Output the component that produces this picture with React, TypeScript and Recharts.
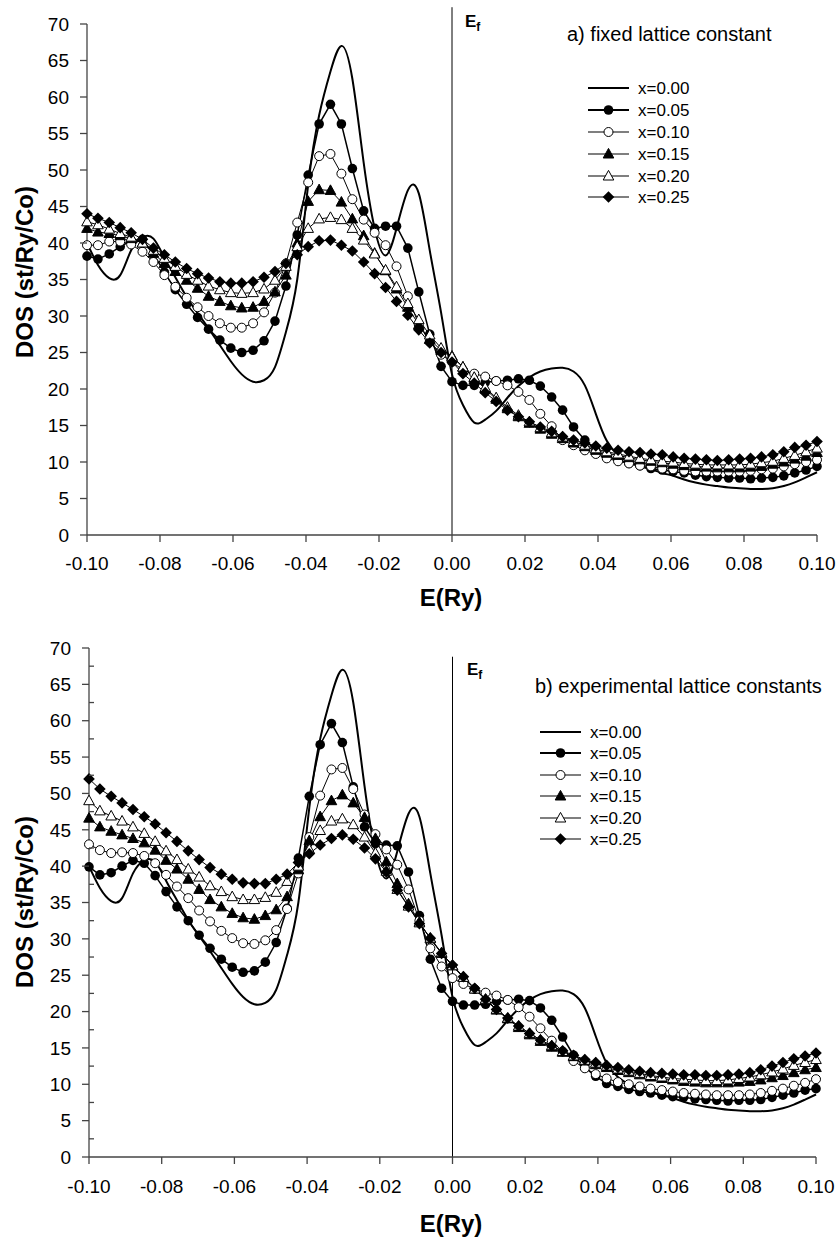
import React from "react"
import { LineChart, Line, XAxis, YAxis, ReferenceLine } from "recharts"

// energy grid (Ry), same for every curve
const energy = [
    -0.1, -0.097, -0.0939, -0.0909, -0.0879, -0.0848, -0.0818, -0.0788, -0.0758, -0.0727, -0.0697,
    -0.0667, -0.0636, -0.0606, -0.0576, -0.0545, -0.0515, -0.0485, -0.0455, -0.0424, -0.0394,
    -0.0364, -0.0333, -0.0303, -0.0273, -0.0242, -0.0212, -0.0182, -0.0152, -0.0121, -0.0091,
    -0.0061, -0.003, 0, 0.003, 0.0061, 0.0091, 0.0121, 0.0152, 0.0182, 0.0212, 0.0242, 0.0273,
    0.0303, 0.0333, 0.0364, 0.0394, 0.0424, 0.0455, 0.0485, 0.0515, 0.0545, 0.0576, 0.0606,
    0.0636, 0.0667, 0.0697, 0.0727, 0.0758, 0.0788, 0.0818, 0.0848, 0.0879, 0.0909, 0.0939,
    0.097, 0.1,
]

// x=0.00 is the same compound in both panels
const dos000 = [
    40.0, 37.0, 35.2, 35.6, 39.0, 40.8, 40.6, 38.0, 35.3, 32.6, 30.4, 28.3, 26.0, 23.8, 22.0, 21.0,
    21.2, 23.0, 27.8, 35.0, 48.0, 57.5, 63.5, 67.0, 62.5, 51.0, 42.0, 38.3, 42.0, 47.2, 46.8, 39.0,
    30.5, 22.0, 17.8, 15.4, 15.8, 17.0, 18.8, 20.4, 21.6, 22.4, 22.8, 22.9, 22.4, 20.5, 16.6, 12.9,
    11.0, 10.0, 9.4, 9.0, 8.5, 8.1, 7.6, 7.2, 6.9, 6.7, 6.5, 6.4, 6.3, 6.3, 6.4, 6.7, 7.2, 7.9, 8.6,
]

// a) fixed lattice constant
const fixed005 = [
    38.2, 37.8, 38.5, 39.5, 40.3, 40.5, 38.5, 36.0, 33.6, 31.6, 29.8, 28.2, 26.7, 25.6, 25.0, 25.3,
    26.6, 29.3, 34.1, 41.1, 49.3, 56.3, 59.0, 56.3, 50.2, 44.4, 42.0, 42.3, 42.3, 39.3, 33.3, 27.5,
    23.1, 21.0, 20.5, 20.5, 20.9, 21.1, 21.2, 21.4, 21.2, 20.4, 18.9, 17.1, 14.8, 13.0, 11.6, 10.7,
    10.3, 9.8, 9.5, 9.1, 8.9, 8.7, 8.5, 8.2, 8.0, 7.9, 7.8, 7.8, 7.7, 7.8, 7.9, 8.1, 8.5, 8.9, 9.4,
]
const fixed010 = [
    39.7, 39.7, 40.2, 40.2, 39.8, 38.8, 37.4, 35.6, 34.0, 32.5, 31.2, 30.0, 29.0, 28.4, 28.4, 29.0,
    30.5, 33.2, 37.2, 42.8, 48.3, 51.9, 52.2, 49.5, 46.0, 43.2, 41.4, 39.7, 36.8, 32.7, 28.8, 26.5,
    24.7, 23.7, 22.6, 22.1, 21.7, 21.1, 20.5, 19.6, 18.5, 16.6, 14.9, 13.0, 12.3, 11.6, 11.1, 10.5,
    10.1, 9.8, 9.5, 9.4, 9.1, 9.0, 8.8, 8.7, 8.7, 8.7, 8.7, 8.7, 8.8, 9.0, 9.1, 9.4, 9.7, 10.0, 10.3,
]
const fixed015 = [
    42.0, 41.5, 41.3, 41.0, 40.6, 40.0, 38.6, 37.2, 36.1, 34.9, 33.8, 32.7, 32.0, 31.4, 31.1, 31.2,
    32.0, 33.3, 35.6, 40.0, 45.7, 47.3, 47.2, 45.6, 43.3, 41.0, 38.6, 36.2, 33.7, 31.2, 28.8, 26.8,
    25.3, 24.5, 23.0, 21.5, 20.0, 18.6, 17.3, 16.2, 15.3, 14.5, 13.8, 13.2, 12.6, 12.1, 11.6, 11.2,
    10.9, 10.6, 10.3, 10.1, 9.9, 9.7, 9.5, 9.4, 9.3, 9.2, 9.2, 9.2, 9.3, 9.4, 9.7, 10.0, 10.4, 10.8,
    11.3,
]
const fixed020 = [
    42.9, 42.5, 41.9, 41.3, 40.8, 40.0, 39.0, 37.9, 36.8, 35.7, 34.9, 34.1, 33.6, 33.2, 33.1, 33.2,
    33.7, 34.9, 36.8, 39.5, 42.0, 43.3, 43.5, 43.2, 42.0, 40.4, 38.5, 36.3, 34.0, 31.7, 29.5, 27.4,
    25.6, 24.4, 23.0, 21.6, 20.2, 18.8, 17.5, 16.4, 15.5, 14.7, 14.0, 13.4, 12.8, 12.3, 11.8, 11.4,
    11.1, 10.8, 10.5, 10.3, 10.1, 10.0, 9.8, 9.7, 9.6, 9.6, 9.6, 9.6, 9.7, 9.9, 10.1, 10.5, 10.9,
    11.4, 11.9,
]
const fixed025 = [
    44.0, 43.4, 42.8, 42.1, 41.4, 40.5, 39.3, 38.4, 37.4, 36.5, 35.8, 35.2, 34.7, 34.5, 34.5, 34.7,
    35.3, 36.1, 37.2, 38.4, 39.5, 40.3, 40.4, 39.7, 38.9, 37.4, 35.8, 33.9, 32.0, 30.1, 28.1, 26.3,
    25.0, 23.7, 22.1, 20.8, 19.5, 18.3, 17.1, 16.2, 15.5, 14.8, 14.2, 13.5, 13.0, 12.6, 12.2, 11.9,
    11.6, 11.4, 11.3, 11.1, 11.0, 10.7, 10.5, 10.4, 10.3, 10.2, 10.3, 10.4, 10.5, 10.7, 11.0, 11.4,
    12.0, 12.3, 12.8,
]

// b) experimental lattice constants
const exp005 = [
    39.9, 38.8, 39.1, 40.0, 40.8, 40.4, 38.7, 36.5, 34.4, 32.5, 30.5, 28.7, 27.2, 26.1, 25.4, 25.6,
    26.8, 29.5, 34.2, 41.1, 49.6, 56.7, 59.6, 57.0, 50.9, 45.4, 43.1, 42.9, 42.8, 39.2, 33.2, 27.2,
    23.2, 21.4, 20.9, 20.9, 21.0, 21.4, 21.6, 21.7, 21.5, 20.5, 18.8, 16.5, 14.0, 12.3, 11.1, 10.1,
    9.7, 9.3, 9.0, 8.8, 8.5, 8.3, 8.2, 8.0, 7.9, 7.8, 7.7, 7.8, 7.8, 7.9, 8.2, 8.5, 8.8, 9.2, 9.4,
]
const exp010 = [
    43.0, 42.2, 41.8, 41.9, 41.8, 41.4, 40.4, 38.8, 37.2, 35.6, 33.9, 32.4, 31.1, 30.1, 29.4, 29.3,
    29.8, 31.2, 34.1, 39.0, 44.0, 49.7, 53.3, 53.5, 50.6, 47.1, 44.4, 42.3, 40.2, 36.8, 32.5, 28.7,
    26.2, 24.6, 23.8, 23.1, 22.6, 22.2, 21.6, 20.6, 19.3, 17.7, 16.0, 14.5, 13.2, 12.2, 11.4, 10.8,
    10.3, 10.0, 9.7, 9.4, 9.2, 9.0, 8.8, 8.7, 8.6, 8.5, 8.5, 8.5, 8.6, 8.8, 9.1, 9.4, 9.8, 10.2, 10.7,
]
const exp015 = [
    46.6, 45.4, 44.8, 44.3, 43.8, 43.2, 42.2, 40.8, 39.6, 38.2, 36.8, 35.4, 34.4, 33.5, 32.9, 32.7,
    33.2, 34.0, 35.8, 39.5, 43.5, 46.8, 49.0, 49.8, 48.7, 46.7, 43.8, 40.6, 37.6, 34.8, 32.3, 30.0,
    28.0, 26.3, 24.7, 23.1, 21.6, 20.2, 19.0, 17.8, 16.8, 15.9, 15.1, 14.4, 13.8, 13.2, 12.7, 12.3,
    11.9, 11.6, 11.3, 11.0, 10.8, 10.6, 10.4, 10.3, 10.2, 10.2, 10.2, 10.3, 10.4, 10.6, 10.9, 11.2,
    11.6, 12.0, 12.3,
]
const exp020 = [
    49.0, 47.6, 46.9, 46.2, 45.4, 44.5, 43.4, 42.1, 40.9, 39.6, 38.5, 37.3, 36.5, 35.8, 35.4, 35.4,
    35.7, 36.4, 37.9, 40.0, 42.3, 44.9, 46.2, 46.5, 45.7, 44.0, 41.8, 39.3, 36.8, 34.5, 32.2, 30.1,
    28.1, 26.3, 24.7, 23.1, 21.7, 20.3, 19.1, 18.0, 17.0, 16.1, 15.3, 14.5, 13.9, 13.3, 12.9, 12.5,
    12.1, 11.8, 11.5, 11.2, 11.0, 10.8, 10.7, 10.6, 10.5, 10.5, 10.6, 10.8, 11.0, 11.3, 11.7, 12.1,
    12.6, 13.0, 13.4,
]
const exp025 = [
    52.0, 50.6, 49.6, 48.7, 47.8, 46.8, 45.8, 44.6, 43.4, 42.1, 40.9, 39.8, 38.9, 38.2, 37.7, 37.6,
    37.6, 38.2, 38.9, 40.5, 41.7, 42.9, 43.8, 44.3, 43.7, 42.5, 41.0, 39.2, 36.7, 34.4, 32.1, 30.1,
    28.0, 26.4, 24.8, 23.2, 21.7, 20.3, 19.1, 18.0, 17.0, 16.1, 15.3, 14.6, 14.0, 13.4, 13.0, 12.6,
    12.3, 12.0, 11.8, 11.6, 11.5, 11.4, 11.3, 11.3, 11.2, 11.2, 11.3, 11.4, 11.6, 12.0, 12.5, 13.0,
    13.5, 13.9, 14.3,
]

const seriesNames = ["x=0.00", "x=0.05", "x=0.10", "x=0.15", "x=0.20", "x=0.25"]
const seriesKeys = ["x000", "x005", "x010", "x015", "x020", "x025"]
const markerKinds = ["none", "dot", "ring", "tri", "openTri", "diamond"]
const xTicks = [-0.1, -0.08, -0.06, -0.04, -0.02, 0, 0.02, 0.04, 0.06, 0.08, 0.1]
const yTicks = [0, 5, 10, 15, 20, 25, 30, 35, 40, 45, 50, 55, 60, 65, 70]
const yTicksWithMinor = [
    0, 2.5, 5, 7.5, 10, 12.5, 15, 17.5, 20, 22.5, 25, 27.5, 30, 32.5, 35, 37.5, 40, 42.5, 45, 47.5,
    50, 52.5, 55, 57.5, 60, 62.5, 65, 67.5, 70,
]

const FONT = "'Liberation Sans', Arial, Helvetica, sans-serif"
const AXIS = "#444"

const buildRows = (series: number[][]) =>
    energy.map((e, i) => {
        const row: Record<string, number> = { e }
        seriesKeys.forEach((k, j) => {
            row[k] = series[j][i]
        })
        return row
    })

const fixedRows = buildRows([dos000, fixed005, fixed010, fixed015, fixed020, fixed025])
const expRows = buildRows([dos000, exp005, exp010, exp015, exp020, exp025])

const Marker = ({ kind, cx, cy }: { kind: string; cx: number; cy: number }) => {
    switch (kind) {
        case "dot":
            return <circle cx={cx} cy={cy} r={4.8} fill="#000" />
        case "ring":
            return <circle cx={cx} cy={cy} r={4.5} fill="#fff" stroke="#000" strokeWidth={1} />
        case "tri":
        case "openTri":
            return (
                <polygon
                    points={`${cx},${cy - 5.6} ${cx + 5.3},${cy + 4} ${cx - 5.3},${cy + 4}`}
                    fill={kind === "tri" ? "#000" : "#fff"}
                    stroke="#000"
                    strokeWidth={1}
                />
            )
        case "diamond":
            return <polygon points={`${cx},${cy - 5.8} ${cx + 5.8},${cy} ${cx},${cy + 5.8} ${cx - 5.8},${cy}`} fill="#000" />
        default:
            return null
    }
}

// y tick: label + outward tick for multiples of 5, short inward tick for the minor ones
// eslint-disable-next-line
const makeYTick = (axisX: number) => (props: any) => {
    const { y, payload } = props
    const v = payload.value as number
    if (v % 5 !== 0) {
        return <line x1={axisX} x2={axisX + 5} y1={y} y2={y} stroke={AXIS} strokeWidth={1.3} />
    }
    return (
        <g>
            <line x1={axisX - 7} x2={axisX} y1={y} y2={y} stroke={AXIS} strokeWidth={1.3} />
            <text x={axisX - 18} y={y} dy="0.355em" textAnchor="end" fill="#000" fontSize={19}>
                {v}
            </text>
        </g>
    )
}

interface PanelProps {
    rows: Record<string, number>[]
    top: number
    height: number
    plotTop: number
    plotRight: number
    plotBottom: number
    yAxisWidth: number
    minorTicks: boolean
    efTop: number
    tickMargin: number
    title: string
    titleX: number
    titleY: number
    legendLineX: number
    legendTextX: number
    legendRowY: number[]
    efX: number
    efY: number
    xLabelY: number
    yLabelY: number
}

const Panel = (p: PanelProps) => {
    const xAxisHeight = 50
    return (
        <div style={{ position: "absolute", left: 0, top: p.top, width: 839, height: p.height }}>
            <LineChart
                width={839}
                height={p.height}
                data={p.rows}
                margin={{ top: p.plotTop, right: 839 - p.plotRight, bottom: p.height - p.plotBottom - xAxisHeight, left: 0 }}
            >
                <XAxis
                    dataKey="e"
                    type="number"
                    domain={[-0.1, 0.1]}
                    ticks={xTicks}
                    tickFormatter={(v: number) => v.toFixed(2)}
                    height={xAxisHeight}
                    stroke={AXIS}
                    strokeWidth={1.3}
                    tickSize={7}
                    tickMargin={p.tickMargin}
                    tick={{ fill: "#000", fontSize: 19 }}
                />
                <YAxis
                    type="number"
                    domain={[0, 70]}
                    ticks={p.minorTicks ? yTicksWithMinor : yTicks}
                    interval={0}
                    width={p.yAxisWidth}
                    stroke={AXIS}
                    strokeWidth={1.3}
                    tickLine={false}
                    tick={makeYTick(p.yAxisWidth)}
                />
                <ReferenceLine
                    segment={[
                        { x: 0, y: 0 },
                        { x: 0, y: p.efTop },
                    ]}
                    ifOverflow="visible"
                    stroke="#000"
                    strokeWidth={1}
                />
                {seriesKeys.map((k, j) => (
                    <Line
                        key={k}
                        dataKey={k}
                        type={j === 0 ? "natural" : "linear"}
                        stroke="#000"
                        strokeWidth={j === 0 ? 2 : j === 1 ? 1.5 : 1}
                        activeDot={false}
                        // eslint-disable-next-line
                        dot={
                            j === 0
                                ? false
                                : (d: any) => <Marker key={`${k}-${d.index}`} kind={markerKinds[j]} cx={d.cx} cy={d.cy} />
                        }
                        isAnimationActive={false}
                    />
                ))}
            </LineChart>
            <svg
                width={839}
                height={p.height}
                style={{ position: "absolute", left: 0, top: 0, pointerEvents: "none" }}
                fontFamily={FONT}
            >
                <text
                    transform={`translate(33,${p.yLabelY}) rotate(-90)`}
                    textAnchor="middle"
                    fontWeight="bold"
                    fontSize={24}
                >
                    DOS (st/Ry/Co)
                </text>
                <text x={451} y={p.xLabelY} textAnchor="middle" fontWeight="bold" fontSize={24}>
                    E(Ry)
                </text>
                <text x={p.efX} y={p.efY} fontWeight="bold" fontSize={17}>
                    E
                    <tspan fontSize={12} dy={4}>
                        f
                    </tspan>
                </text>
                <text x={p.titleX} y={p.titleY} fontSize={20}>
                    {p.title}
                </text>
                {seriesNames.map((name, j) => {
                    const y = p.legendRowY[j]
                    return (
                        <g key={name}>
                            <line
                                x1={p.legendLineX}
                                x2={p.legendLineX + 41}
                                y1={y}
                                y2={y}
                                stroke="#000"
                                strokeWidth={j === 0 ? 2 : j === 1 ? 1.8 : 1.2}
                            />
                            <Marker kind={markerKinds[j]} cx={p.legendLineX + 20.5} cy={y} />
                            <text x={p.legendTextX} y={y + 6} fontSize={17}>
                                {name}
                            </text>
                        </g>
                    )
                })}
            </svg>
        </div>
    )
}

const App: React.FC = () => (
    <div
        style={{
            position: "absolute",
            left: 0,
            top: 0,
            width: 839,
            height: 1238,
            background: "#fff",
            fontFamily: FONT,
        }}
    >
        <Panel
            rows={fixedRows}
            top={0}
            height={620}
            plotTop={24}
            plotRight={817}
            plotBottom={535}
            yAxisWidth={87}
            minorTicks={false}
            efTop={72.3}
            tickMargin={15}
            title="a) fixed lattice constant"
            titleX={567}
            titleY={41}
            legendLineX={588}
            legendTextX={638}
            legendRowY={[88, 110, 132, 154, 176, 197]}
            efX={465}
            efY={27}
            xLabelY={606}
            yLabelY={272}
        />
        <Panel
            rows={expRows}
            top={620}
            height={618}
            plotTop={28}
            plotRight={816}
            plotBottom={537}
            yAxisWidth={89}
            minorTicks={true}
            efTop={68.8}
            tickMargin={16}
            title="b) experimental lattice constants"
            titleX={535}
            titleY={73}
            legendLineX={540}
            legendTextX={590}
            legendRowY={[112, 133, 155, 176, 198, 219]}
            efX={467}
            efY={55}
            xLabelY={612}
            yLabelY={282}
        />
    </div>
)

export default App
